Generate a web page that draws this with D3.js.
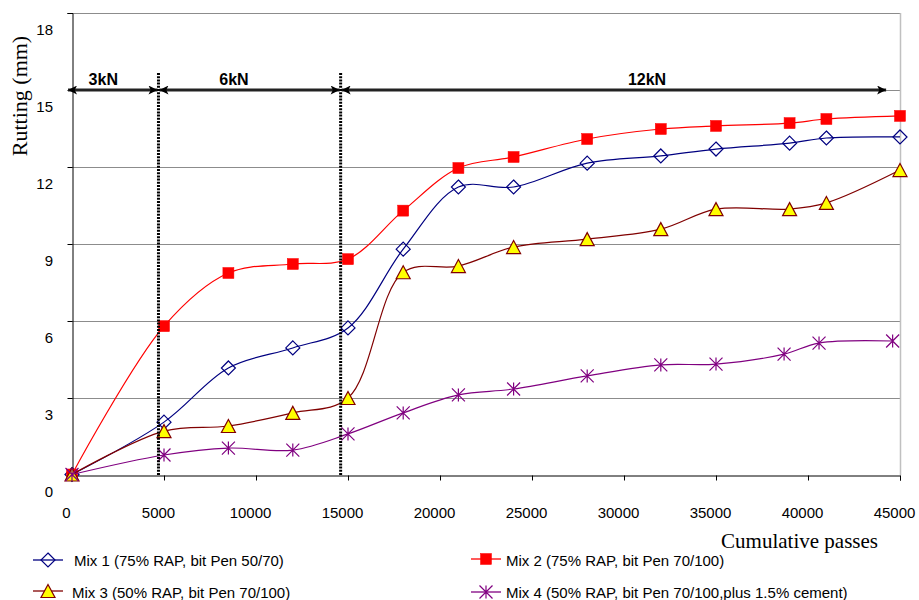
<!DOCTYPE html>
<html>
<head>
<meta charset="utf-8">
<script src="https://cdn.jsdelivr.net/npm/d3@7"></script>
<style>
  html, body { margin: 0; padding: 0; background: #fff; }
  svg { display: block; }
</style>
</head>
<body>
<svg id="chart" width="919" height="600"></svg>
<script>
// ---- data ----
const xMain = [0, 5000, 8500, 12000, 15000, 18000, 21000, 24000, 28000, 32000, 35000, 39000, 41000, 45000];
const xMix4 = [0, 5000, 8500, 12000, 15000, 18000, 21000, 24000, 28000, 32000, 35000, 38700, 40600, 44600];
const mix1 = [0.02, 2.06, 4.17, 4.95, 5.73, 8.8, 11.22, 11.22, 12.15, 12.43, 12.7, 12.93, 13.13, 13.17];
const mix2 = [0.02, 5.8, 7.87, 8.22, 8.41, 10.3, 11.96, 12.39, 13.09, 13.48, 13.6, 13.71, 13.87, 13.99];
const mix3 = [0.02, 1.71, 1.91, 2.42, 3.0, 7.9, 8.14, 8.88, 9.19, 9.58, 10.36, 10.36, 10.6, 11.88];
const mix4 = [0.02, 0.78, 1.05, 0.97, 1.6, 2.42, 3.12, 3.35, 3.86, 4.29, 4.32, 4.71, 5.14, 5.22];
const seriesNames = [
  "Mix 1 (75% RAP, bit Pen 50/70)",
  "Mix 2 (75% RAP, bit Pen 70/100)",
  "Mix 3 (50% RAP, bit Pen 70/100)",
  "Mix 4 (50% RAP, bit Pen 70/100,plus 1.5% cement)"
];
const xTicks = [0, 5000, 10000, 15000, 20000, 25000, 30000, 35000, 40000, 45000];
const yTicks = [0, 3, 6, 9, 12, 15, 18];
const loadLabels = ["3kN", "6kN", "12kN"];
const loadLabelX = [1700, 8800, 31250];
const loadBounds = [-270, 4700, 14600, 44300];
const xTitle = "Cumulative passes";
const yTitle = "Rutting (mm)";

// ---- layout ----
const svg = d3.select("#chart");
const L = 72, R = 900, T = 13, B = 475;
const x = d3.scaleLinear().domain([0, 45000]).range([L, R]);
const y = d3.scaleLinear().domain([0, 18]).range([B, T]);
const sans = "'Liberation Sans', Arial, sans-serif";
const serif = "'Liberation Serif', 'Times New Roman', serif";

// gridlines
svg.append("g").selectAll("line").data(yTicks.filter(d => d > 0)).join("line")
  .attr("x1", L).attr("x2", R)
  .attr("y1", d => Math.round(y(d)) + 0.5).attr("y2", d => Math.round(y(d)) + 0.5)
  .attr("stroke", "#8c8c8c").attr("stroke-width", 1);
// right border
svg.append("line").attr("x1", R + 0.5).attr("x2", R + 0.5).attr("y1", T).attr("y2", B)
  .attr("stroke", "#c0c0c0").attr("stroke-width", 1.5);

// axes
const xAxis = d3.axisBottom(x).tickValues(xTicks).tickSize(5).tickFormat("");
const gx = svg.append("g").attr("transform", `translate(0,${B + 0.5})`).call(xAxis);
gx.select(".domain").attr("stroke", "#000");
gx.selectAll(".tick line").attr("stroke", "#000");
const yAxis = d3.axisLeft(y).tickValues(yTicks).tickSize(5).tickFormat("");
const gy = svg.append("g").attr("transform", `translate(${L + 0.5},0)`).call(yAxis);
gy.select(".domain").attr("stroke", "#000");
gy.selectAll(".tick line").attr("stroke", "#000");

// tick labels (offset like the original)
svg.append("g").selectAll("text").data(xTicks).join("text")
  .attr("x", d => x(d) - 5.5).attr("y", 518)
  .attr("text-anchor", "middle").attr("font-family", sans).attr("font-size", 15)
  .text(d => d);
svg.append("g").selectAll("text").data(yTicks).join("text")
  .attr("x", 53).attr("y", d => y(d) + 21.5)
  .attr("text-anchor", "end").attr("font-family", sans).attr("font-size", 15)
  .text(d => d);

// axis titles
svg.append("text").attr("x", 878).attr("y", 548).attr("text-anchor", "end")
  .attr("font-family", serif).attr("font-size", 21).text(xTitle);
svg.append("text").attr("transform", "translate(27,96) rotate(-90)").attr("text-anchor", "middle")
  .attr("font-family", serif).attr("font-size", 22).text(yTitle);

// ---- series ----
const curve = d3.curveCatmullRom.alpha(0.5);
const series = [
  { xs: xMain, ys: mix1, color: "#000080", marker: "diamond" },
  { xs: xMain, ys: mix2, color: "#ff0000", marker: "square" },
  { xs: xMain, ys: mix3, color: "#800000", marker: "triangle" },
  { xs: xMix4, ys: mix4, color: "#800080", marker: "star" }
];

function drawMarker(g, type, color, cx, cy) {
  if (type === "diamond") {
    const s = 7;
    g.append("path").attr("d", `M${cx},${cy - s}L${cx + s},${cy}L${cx},${cy + s}L${cx - s},${cy}Z`)
      .attr("fill", "none").attr("stroke", color).attr("stroke-width", 1.2);
  } else if (type === "square") {
    const s = 5.5;
    g.append("rect").attr("x", cx - s).attr("y", cy - s).attr("width", 2 * s).attr("height", 2 * s)
      .attr("fill", "#ff0000").attr("stroke", "#ff0000").attr("stroke-width", 0.5);
  } else if (type === "triangle") {
    const w = 7, h = 6.5;
    g.append("path").attr("d", `M${cx},${cy - h}L${cx + w},${cy + h}L${cx - w},${cy + h}Z`)
      .attr("fill", "#ffff00").attr("stroke", color).attr("stroke-width", 1.2);
  } else if (type === "star") {
    const s = 6.5;
    g.append("path").attr("d",
      `M${cx - s},${cy - s}L${cx + s},${cy + s}M${cx - s},${cy + s}L${cx + s},${cy - s}M${cx},${cy - s}L${cx},${cy + s}`)
      .attr("fill", "none").attr("stroke", color).attr("stroke-width", 1.2);
  }
}

const line = d3.line().x(d => x(d[0])).y(d => y(d[1])).curve(curve);
series.forEach(s => {
  const pts = s.xs.map((xv, i) => [xv, s.ys[i]]);
  const g = svg.append("g");
  g.append("path").attr("d", line(pts)).attr("fill", "none")
    .attr("stroke", s.color).attr("stroke-width", 1.2);
  pts.forEach(p => drawMarker(g, s.marker, s.color, x(p[0]), y(p[1])));
});

// ---- load-stage dividers and arrows ----
const arrowY = 90;
svg.append("defs").html(`
  <marker id="ah" viewBox="0 0 10 10" refX="10" refY="5" markerWidth="3.3" markerHeight="3" orient="auto-start-reverse" markerUnits="strokeWidth">
    <path d="M0,0L10,5L0,10L2.5,5Z" fill="#000"/>
  </marker>`);
for (let i = 0; i < loadLabels.length; i++) {
  const x1 = x(loadBounds[i]), x2 = x(loadBounds[i + 1]);
  svg.append("line").attr("x1", x1 + 1).attr("x2", x2 - 1).attr("y1", arrowY).attr("y2", arrowY)
    .attr("stroke", "#222").attr("stroke-width", 3)
    .attr("marker-start", "url(#ah)").attr("marker-end", "url(#ah)");
  svg.append("text").attr("x", x(loadLabelX[i])).attr("y", 85).attr("text-anchor", "middle")
    .attr("font-family", sans).attr("font-weight", "bold").attr("font-size", 16)
    .text(loadLabels[i]);
}
[loadBounds[1], loadBounds[2]].forEach(b => {
  svg.append("line").attr("x1", x(b)).attr("x2", x(b)).attr("y1", 73).attr("y2", B)
    .attr("stroke", "#000").attr("stroke-width", 3).attr("stroke-dasharray", "2,1.2");
});

// ---- legend ----
const legendPos = [
  { lx: 33, tx: 74, ly: 560, ty: 566 },
  { lx: 471, tx: 506, ly: 559, ty: 566 },
  { lx: 33, tx: 72, ly: 591, ty: 598 },
  { lx: 471, tx: 506, ly: 592, ty: 598 }
];
series.forEach((s, i) => {
  const p = legendPos[i];
  const g = svg.append("g");
  g.append("line").attr("x1", p.lx).attr("x2", p.lx + 30).attr("y1", p.ly).attr("y2", p.ly)
    .attr("stroke", s.color).attr("stroke-width", 1.3);
  drawMarker(g, s.marker, s.color, p.lx + 15, p.ly);
  g.append("text").attr("x", p.tx).attr("y", p.ty).attr("font-family", sans).attr("font-size", 15)
    .text(seriesNames[i]);
});
</script>
</body>
</html>
